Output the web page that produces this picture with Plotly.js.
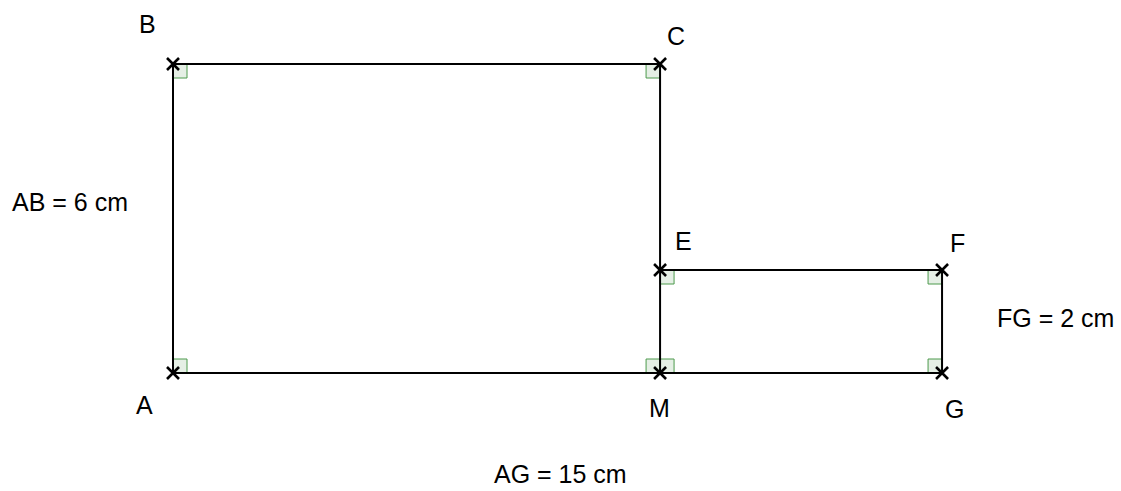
<!DOCTYPE html>
<html>
<head>
<meta charset="utf-8">
<script src="https://cdn.plot.ly/plotly-3.0.1.min.js"></script>
<style>html,body{margin:0;padding:0;background:#fff;}#chart{width:1121px;height:491px;}</style>
</head>
<body>
<div id="chart"></div>
<script>
// Points of the figure (cm)
const pointNames = ["A", "B", "C", "E", "F", "G", "M"];
const pointX = [0, 0, 9.5, 9.5, 15, 15, 9.5];
const pointY = [0, 6, 6, 2, 2, 0, 0];
// Outline path through the points (null = gap)
const pathOrder = ["A", "B", "C", "E", "F", "G", "A", null, "E", "M"];
// Right-angle marks: vertex and direction (dx, dy)
const rightAngleAt = ["A", "B", "C", "E", "F", "G", "M", "M"];
const rightAngleDx = [1, 1, -1, 1, -1, -1, -1, 1];
const rightAngleDy = [1, -1, -1, -1, -1, 1, 1, 1];
// Point label offsets (px)
const labelDx = [-29, -26, 16, 23, 15, 12, -1];
const labelDy = [-32, 40, 28, 29, 27, -36, -35];
// Measurement labels
const measureText = ["AB = 6 cm", "FG = 2 cm", "AG = 15 cm"];
const measureFrom = ["A", "F", "A"];
const measureTo = ["B", "G", "G"];
const measureDx = [-103, 113, 3];
const measureDy = [17, 4, -101];

const idx = n => pointNames.indexOf(n);
const px = n => pointX[idx(n)];
const py = n => pointY[idx(n)];

const FONT = {family: "Liberation Sans, Arial, sans-serif", size: 25, color: "#000"};

const lineTrace = {
  x: pathOrder.map(n => n === null ? null : px(n)),
  y: pathOrder.map(n => n === null ? null : py(n)),
  mode: "lines", type: "scatter", connectgaps: false,
  line: {color: "#000", width: 2}, hoverinfo: "skip"
};
const pointTrace = {
  x: pointX, y: pointY, mode: "markers", type: "scatter",
  marker: {symbol: "x-thin", size: 12, line: {color: "#000", width: 2.6}, color: "#000"},
  hoverinfo: "skip"
};

const sx = 14 / 51.27, sy = 14 / 51.5;
const shapes = rightAngleAt.map((n, i) => {
  const x0 = px(n), y0 = py(n);
  const x1 = x0 + rightAngleDx[i] * sx, y1 = y0 + rightAngleDy[i] * sy;
  return {type: "rect", xref: "x", yref: "y",
    x0: Math.min(x0, x1), x1: Math.max(x0, x1), y0: Math.min(y0, y1), y1: Math.max(y0, y1),
    fillcolor: "#e5efe5", line: {color: "#4c9a4c", width: 1}, layer: "below"};
});

const annotations = pointNames.map((n, i) => ({
  x: pointX[i], y: pointY[i], xref: "x", yref: "y", text: n, showarrow: false,
  xshift: labelDx[i], yshift: labelDy[i], font: FONT
})).concat(measureText.map((t, i) => ({
  x: (px(measureFrom[i]) + px(measureTo[i])) / 2,
  y: (py(measureFrom[i]) + py(measureTo[i])) / 2,
  xref: "x", yref: "y", text: t, showarrow: false,
  xshift: measureDx[i], yshift: measureDy[i], font: FONT
})));

const layout = {
  width: 1121, height: 491,
  margin: {l: 0, r: 0, t: 0, b: 0},
  paper_bgcolor: "#fff", plot_bgcolor: "#fff",
  showlegend: false,
  xaxis: {range: [-173 / 51.27, (1121 - 173) / 51.27], visible: false, fixedrange: true},
  yaxis: {range: [-(491 - 373) / 51.5, 6 + 64 / 51.5], visible: false, fixedrange: true},
  shapes: shapes, annotations: annotations
};

Plotly.newPlot("chart", [lineTrace, pointTrace], layout, {staticPlot: true, displayModeBar: false});
</script>
</body>
</html>
